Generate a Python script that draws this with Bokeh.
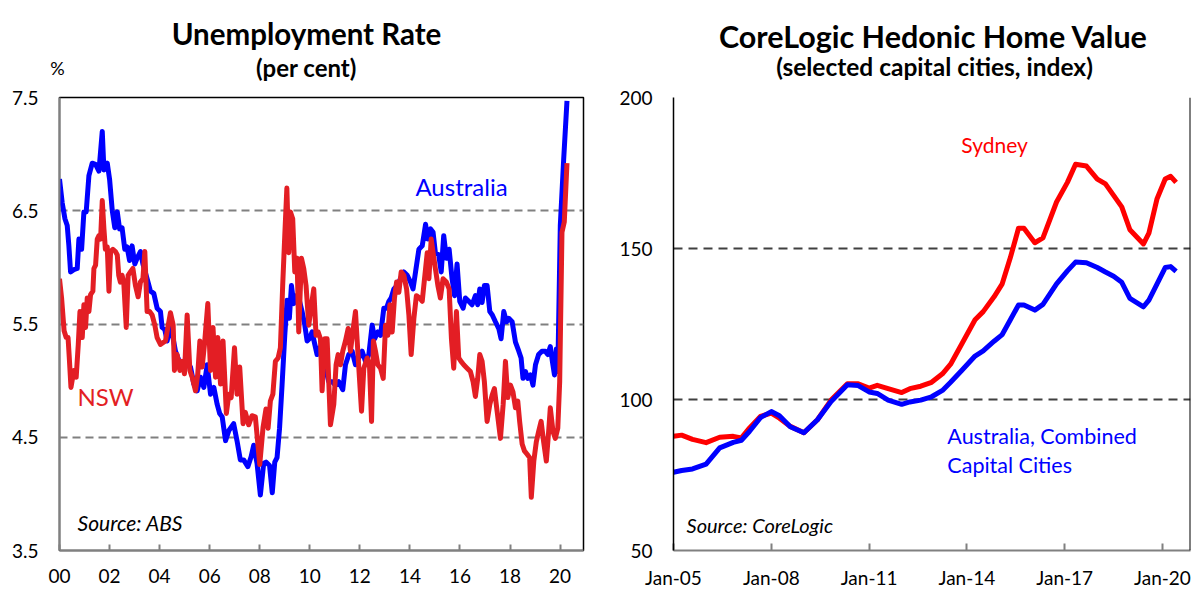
from bokeh.plotting import figure
from bokeh.layouts import row, column
from bokeh.models import Range1d, FixedTicker, Label, Span, ColumnDataSource
from bokeh.embed import file_html
from bokeh.resources import INLINE

FONT = "Lato"

# ---------------- Unemployment rate (monthly index since Jan 2000) ----------------
aus_months = [0, 1.3, 2.6, 3.7, 4.5, 5.3, 6.9, 8.5, 9.3, 10.6,
              11.7, 12.8, 14.1, 15.7, 17.3, 18.9, 20.5, 21.3, 22.9, 24.0,
              25.3, 26.5, 27.7, 28.8, 30.0, 31.3, 32.4, 33.6, 34.8, 36.1,
              37.2, 38.8, 40.0, 42.0, 43.6, 45.2, 46.8, 48.4, 49.2, 50.5,
              51.6, 53.2, 55.6, 58.0, 60.4, 62.8, 64.4, 66.0, 67.6, 69.2,
              70.8, 72.4, 74.0, 75.6, 76.8, 78.0, 79.6, 81.2, 83.5, 85.1,
              86.7, 88.3, 90.3, 91.9, 93.1, 94.7, 96.3, 97.9, 99.0, 100.7,
              102.0, 103.2, 104.3, 105.5, 106.7, 108.0, 109.1, 110.2, 111.2, 112.3,
              113.4, 114.7, 116.3, 117.6, 118.7, 119.8, 121.1, 122.4, 123.5, 124.6,
              125.9, 127.5, 129.1, 130.7, 132.3, 133.9, 135.8, 137.1, 138.7, 140.3,
              141.9, 143.5, 145.1, 146.7, 148.3, 149.9, 151.1, 152.6, 153.9, 155.5,
              156.8, 157.9, 159.0, 160.3, 161.9, 163.5, 165.1, 166.7, 168.3, 169.5,
              170.7, 172.3, 173.9, 175.5, 176.6, 177.9, 179.1, 180.2, 181.8, 183.0,
              184.2, 185.5, 186.8, 188.2, 189.4, 190.6, 191.9, 193.5, 194.6, 196.2,
              197.8, 199.4, 200.5, 201.5, 202.6, 203.7, 205.0, 206.3, 207.5, 209.0,
              210.6, 211.7, 213.0, 214.3, 215.4, 217.0, 218.6, 220.2, 221.3, 222.2,
              223.4, 224.5, 225.8, 227.0, 228.2, 229.7, 231.3, 232.9, 234.1, 235.3,
              236.3, 237.3, 238.2, 238.9, 240.1, 241.7, 243.3]
aus_rate = [6.78, 6.57, 6.43, 6.37, 6.19, 5.96, 5.98, 5.99, 6.25, 6.16,
            6.49, 6.49, 6.81, 6.92, 6.91, 6.85, 7.20, 6.86, 6.92, 6.78,
            6.50, 6.35, 6.49, 6.34, 6.35, 6.16, 6.18, 6.06, 6.19, 6.03,
            6.08, 6.14, 6.03, 5.90, 5.79, 5.77, 5.64, 5.61, 5.47, 5.45,
            5.35, 5.50, 5.26, 5.14, 5.14, 5.12, 4.97, 4.91, 5.03, 4.94,
            5.14, 4.88, 4.94, 4.79, 4.71, 4.68, 4.47, 4.56, 4.62, 4.47,
            4.30, 4.30, 4.24, 4.33, 4.43, 4.27, 3.99, 4.27, 4.28, 4.25,
            4.01, 4.28, 4.32, 4.58, 4.96, 5.40, 5.71, 5.55, 5.84, 5.68,
            5.75, 5.73, 5.61, 5.49, 5.35, 5.37, 5.43, 5.32, 5.23, 5.29,
            5.20, 5.11, 4.99, 4.99, 4.96, 4.99, 4.92, 5.14, 5.23, 5.26,
            5.14, 5.20, 5.26, 5.17, 5.23, 5.49, 5.37, 5.43, 5.40, 5.64,
            5.64, 5.70, 5.73, 5.81, 5.84, 5.90, 5.96, 5.93, 5.87, 5.81,
            5.96, 6.16, 6.19, 6.38, 6.25, 6.34, 6.31, 6.13, 6.11, 5.96,
            6.28, 6.08, 6.16, 5.90, 5.75, 6.03, 5.70, 5.64, 5.73, 5.70,
            5.67, 5.75, 5.67, 5.81, 5.69, 5.84, 5.84, 5.61, 5.58, 5.52,
            5.46, 5.37, 5.61, 5.52, 5.55, 5.52, 5.34, 5.26, 5.20, 5.02,
            5.08, 5.02, 5.05, 4.96, 5.14, 5.23, 5.26, 5.26, 5.23, 5.30,
            5.17, 5.05, 5.28, 5.08, 6.37, 6.95, 7.47]

nsw_months = [0, 1.0, 2.2, 3.2, 4.1, 4.7, 5.5, 6.9, 8.0, 9.0,
              9.8, 10.9, 11.7, 12.5, 13.3, 14.1, 14.9, 16.0, 16.5, 17.3,
              18.1, 18.9, 19.7, 20.5, 21.3, 22.0, 22.9, 23.7, 24.5, 25.6,
              26.8, 27.7, 28.4, 29.2, 30.0, 30.8, 32.0, 32.9, 34.0, 35.2,
              36.4, 37.7, 38.8, 40.0, 40.9, 42.0, 43.2, 44.4, 45.7, 46.8,
              48.4, 50.8, 53.2, 54.5, 55.1, 56.4, 57.7, 58.8, 59.9, 61.2,
              62.5, 63.6, 65.2, 66.3, 67.3, 68.4, 69.5, 71.1, 72.4, 73.6,
              74.8, 75.9, 77.2, 78.4, 80.0, 81.2, 82.3, 83.9, 85.1, 86.4,
              88.0, 89.1, 90.7, 92.3, 93.9, 96.0, 97.6, 99.0, 100.0, 101.1,
              102.3, 103.5, 104.8, 105.9, 107.0, 108.0, 109.0, 109.9, 110.7, 111.8,
              112.8, 113.9, 114.7, 116.0, 117.1, 118.2, 119.5, 120.8, 121.9, 123.0,
              124.0, 125.1, 125.9, 127.2, 128.3, 129.9, 131.5, 132.6, 133.6, 134.7,
              135.8, 137.1, 138.4, 139.5, 140.6, 141.9, 143.2, 144.8, 145.9, 147.5,
              148.6, 149.6, 150.5, 151.5, 152.6, 153.9, 155.2, 156.3, 157.4, 158.4,
              159.5, 160.6, 161.6, 162.7, 163.8, 165.1, 166.4, 167.5, 168.6, 169.9,
              171.1, 172.7, 173.9, 175.0, 176.3, 177.1, 178.2, 179.1, 180.2, 181.4,
              182.6, 183.9, 185.5, 186.8, 187.9, 189.0, 190.3, 191.4, 192.5, 193.8,
              195.4, 197.0, 198.3, 199.4, 200.5, 201.5, 202.6, 203.7, 205.0, 206.3,
              207.4, 208.5, 209.8, 211.4, 212.7, 213.8, 214.9, 216.2, 217.4, 218.6,
              219.7, 220.6, 221.8, 222.9, 224.2, 225.4, 226.2, 227.4, 228.6, 229.7,
              230.9, 232.1, 233.4, 234.5, 235.3, 236.6, 237.7, 238.9, 239.8, 240.9,
              242.0, 243.3]
nsw_rate = [5.90, 5.73, 5.44, 5.38, 5.38, 5.20, 4.94, 5.09, 5.03, 5.32,
            5.61, 5.38, 5.67, 5.47, 5.73, 5.61, 5.76, 5.79, 5.99, 6.02,
            6.25, 6.28, 6.25, 6.59, 6.34, 6.16, 6.18, 5.79, 6.14, 6.16,
            6.14, 6.11, 5.93, 5.87, 5.93, 5.87, 5.47, 5.93, 5.96, 5.99,
            5.84, 5.74, 5.87, 5.90, 6.14, 5.61, 5.61, 5.58, 5.49, 5.38,
            5.32, 5.35, 5.60, 5.49, 5.09, 5.23, 5.09, 5.17, 5.06, 5.58,
            5.09, 5.03, 4.91, 5.06, 5.35, 5.12, 5.32, 5.68, 5.09, 5.47,
            5.03, 5.38, 4.97, 5.35, 4.71, 4.88, 4.85, 5.29, 4.88, 5.12,
            4.62, 4.72, 4.61, 4.69, 4.68, 4.26, 4.59, 4.75, 4.58, 4.82,
            4.88, 5.17, 5.20, 5.29, 5.84, 6.28, 6.70, 6.13, 6.49, 6.43,
            5.96, 6.08, 5.43, 6.08, 5.99, 5.84, 5.49, 5.67, 5.81, 5.40,
            5.43, 5.37, 4.91, 5.37, 5.37, 4.61, 4.79, 5.14, 5.23, 5.14,
            5.26, 5.35, 5.46, 5.26, 5.43, 5.61, 5.20, 4.73, 5.11, 5.20,
            5.14, 4.64, 5.35, 5.26, 5.14, 5.11, 5.02, 5.49, 5.40, 5.67,
            5.43, 5.73, 5.87, 5.78, 5.96, 5.93, 5.81, 5.58, 5.23, 5.55,
            5.75, 5.73, 5.70, 5.90, 6.13, 5.90, 6.25, 6.13, 5.99, 5.84,
            5.73, 5.90, 5.87, 5.81, 5.37, 5.11, 5.61, 5.20, 5.17, 5.14,
            5.11, 5.08, 4.99, 4.86, 5.02, 5.23, 5.17, 4.99, 4.64, 4.79,
            4.87, 4.93, 4.73, 4.49, 4.79, 5.17, 4.85, 4.96, 4.90, 4.76,
            4.82, 4.64, 4.44, 4.38, 4.35, 4.32, 3.97, 4.29, 4.46, 4.55,
            4.64, 4.46, 4.29, 4.55, 4.76, 4.55, 4.49, 4.58, 4.99, 6.31,
            6.40, 6.92]

unemp_ticks = [2000, 2002, 2004, 2006, 2008, 2010, 2012, 2014, 2016, 2018, 2020]
unemp_tick_labels = ["00", "02", "04", "06", "08", "10", "12", "14", "16", "18", "20"]
unemp_yticks = [3.5, 4.5, 5.5, 6.5, 7.5]
unemp_grid = [4.5, 5.5, 6.5]

# ---------------- CoreLogic hedonic home value index ----------------
hv_dates = ["2005-01", "2005-04", "2005-08", "2006-01", "2006-06", "2006-11",
            "2007-02", "2007-05", "2007-09", "2008-01", "2008-04", "2008-08",
            "2009-01", "2009-06", "2009-11", "2010-05", "2010-09", "2011-01",
            "2011-04", "2011-08", "2012-01", "2012-04", "2012-08", "2012-12",
            "2013-04", "2013-07", "2013-11", "2014-04", "2014-07", "2014-11",
            "2015-02", "2015-05", "2015-08", "2015-10", "2016-02", "2016-05",
            "2016-10", "2017-02", "2017-05", "2017-09", "2018-01", "2018-04",
            "2018-07", "2018-10", "2019-01", "2019-06", "2019-08", "2019-11",
            "2020-02", "2020-04", "2020-06"]
sydney_index = [87.8, 88.2, 86.8, 85.7, 87.5, 87.8, 87.3, 90.6, 94.4, 95.5,
                93.8, 91.1, 89.0, 93.3, 99.8, 105.2, 105.2, 103.8, 104.7, 103.6,
                102.3, 103.6, 104.4, 105.7, 108.5, 111.7, 118.2, 126.4, 129.1, 134.0,
                138.3, 147.0, 156.7, 156.7, 151.9, 153.5, 165.4, 171.9, 177.9, 177.3,
                173.0, 171.4, 167.6, 163.8, 156.2, 151.5, 155.1, 166.5, 173.0, 173.9,
                171.9]
australia_index = [75.9, 76.5, 77.0, 78.6, 84.0, 85.8, 86.5, 89.5, 94.0, 96.0,
                   94.6, 91.0, 89.0, 93.3, 99.3, 104.9, 104.6, 102.5, 102.0, 99.8,
                   98.4, 99.2, 99.8, 100.9, 103.0, 105.7, 109.5, 114.4, 116.1, 119.3,
                   121.5, 126.4, 131.3, 131.3, 129.6, 131.5, 138.3, 142.6, 145.5, 145.3,
                   143.7, 142.2, 140.8, 138.8, 133.5, 130.7, 132.9, 138.3, 143.7, 144.0,
                   142.4]
hv_ticks = [2005, 2008, 2011, 2014, 2017, 2020]
hv_tick_labels = ["Jan-05", "Jan-08", "Jan-11", "Jan-14", "Jan-17", "Jan-20"]
hv_yticks = [50, 100, 150, 200]
hv_grid = [100, 150, 200]

BLUE = "#0000FF"
NSW_RED = "#E31E24"
SYD_RED = "#FF0000"
GRID_L = "#808080"
GRID_R = "#404040"


def style_axes(p, tick_size="19px"):
    for ax in (p.xaxis[0], p.yaxis[0]):
        ax.major_label_text_font = FONT
        ax.major_label_text_font_size = tick_size
        ax.major_label_text_color = "black"
        ax.minor_tick_line_color = None
        ax.major_tick_out = 0
    p.yaxis[0].major_tick_in = 0
    p.yaxis[0].major_label_standoff = 21
    p.xgrid.visible = False
    p.background_fill_color = "white"
    p.border_fill_color = "white"


def lbl(p, x, y, text, size, color="black", style="normal", align="left"):
    p.add_layout(Label(x=x, y=y, text=text, text_font=FONT, text_font_size=size,
                       text_color=color, text_font_style=style, text_align=align,
                       text_baseline="middle"))


# ---------- header with titles (page-pixel x, y measured up from the header bottom) ----------
HEAD_H = 82
header = figure(width=1196, height=HEAD_H, output_backend="svg", toolbar_location=None,
                title=None, x_range=Range1d(0, 1196), y_range=Range1d(0, HEAD_H),
                x_axis_type=None, y_axis_type=None, min_border=0)
header.outline_line_color = None
header.grid.visible = False
header.background_fill_color = "white"
header.border_fill_color = "white"
lbl(header, 306, HEAD_H - 33, "Unemployment Rate", "29.5px", style="bold", align="center")
lbl(header, 306, HEAD_H - 67, "(per cent)", "24px", style="bold", align="center")
lbl(header, 57, HEAD_H - 67, "%", "18px", align="center")
lbl(header, 933, HEAD_H - 35, "CoreLogic Hedonic Home Value", "30.5px", style="bold", align="center")
lbl(header, 934, HEAD_H - 66, "(selected capital cities, index)", "24.5px", style="bold", align="center")

PH = 596 - HEAD_H

# ---------- left figure ----------
x1_end = 2000 + 524 / 25.03
p1 = figure(width=600, height=PH, output_backend="svg", toolbar_location=None, title=None,
            x_range=Range1d(2000, x1_end), y_range=Range1d(3.5, 7.5),
            min_border_left=59, min_border_right=17, min_border_top=93 - HEAD_H, min_border_bottom=46)
style_axes(p1)
p1.xaxis.ticker = FixedTicker(ticks=unemp_ticks)
p1.xaxis.major_label_overrides = {t: s for t, s in zip(unemp_ticks, unemp_tick_labels)}
p1.xaxis.major_tick_in = 6
p1.xaxis.major_tick_line_color = GRID_L
p1.xaxis.major_tick_line_width = 2
p1.xaxis.major_label_standoff = 18
p1.xaxis.axis_line_color = GRID_L
p1.xaxis.axis_line_width = 2
p1.yaxis.ticker = FixedTicker(ticks=unemp_yticks)
p1.yaxis.axis_line_color = GRID_L
p1.yaxis.axis_line_width = 2
p1.ygrid.ticker = FixedTicker(ticks=unemp_grid)
p1.ygrid.grid_line_color = GRID_L
p1.ygrid.grid_line_width = 2
p1.ygrid.grid_line_dash = "8 5"
p1.outline_line_color = "black"
p1.outline_line_width = 1.5

aus_src = ColumnDataSource(dict(x=[2000 + m / 12 for m in aus_months], y=aus_rate))
nsw_src = ColumnDataSource(dict(x=[2000 + m / 12 for m in nsw_months], y=nsw_rate))
p1.line("x", "y", source=aus_src, line_color=BLUE, line_width=5, line_join="round")
p1.line("x", "y", source=nsw_src, line_color=NSW_RED, line_width=5, line_join="round")

lbl(p1, 2014.22, 6.71, "Australia", "24px", color=BLUE)
lbl(p1, 2000.72, 4.86, "NSW", "24px", color=NSW_RED)
lbl(p1, 2000.72, 3.745, "Source: ABS", "21px", style="italic")

# ---------- right figure ----------
x2_end = 2005 + 517 / 32.6
p2 = figure(width=596, height=PH, output_backend="svg", toolbar_location=None, title=None,
            x_range=Range1d(2005, x2_end), y_range=Range1d(50, 200),
            min_border_left=73, min_border_right=6, min_border_top=97 - HEAD_H, min_border_bottom=38)
style_axes(p2)
p2.xaxis.ticker = FixedTicker(ticks=hv_ticks)
p2.xaxis.major_label_overrides = {t: s for t, s in zip(hv_ticks, hv_tick_labels)}
p2.xaxis.major_tick_in = 7
p2.xaxis.major_tick_line_color = GRID_L
p2.xaxis.major_tick_line_width = 2
p2.xaxis.major_label_standoff = 15
p2.xaxis.axis_line_color = GRID_L
p2.xaxis.axis_line_width = 2
p2.yaxis.ticker = FixedTicker(ticks=hv_yticks)
p2.yaxis.axis_line_color = "black"
p2.yaxis.axis_line_width = 1.5
p2.ygrid.ticker = FixedTicker(ticks=hv_grid)
p2.ygrid.grid_line_color = GRID_R
p2.ygrid.grid_line_width = 2
p2.ygrid.grid_line_dash = "9 6"
p2.outline_line_color = None
p2.add_layout(Span(location=x2_end, dimension="height", line_color="black", line_width=2))


def dec_year(s):
    y, m = s.split("-")
    return int(y) + (int(m) - 1) / 12


hv_x = [dec_year(d) for d in hv_dates]
syd_src = ColumnDataSource(dict(x=hv_x, y=sydney_index))
aus_hv_src = ColumnDataSource(dict(x=hv_x, y=australia_index))
p2.line("x", "y", source=syd_src, line_color=SYD_RED, line_width=5, line_join="round")
p2.line("x", "y", source=aus_hv_src, line_color=BLUE, line_width=5, line_join="round")

lbl(p2, 2013.83, 184.4, "Sydney", "21px", color=SYD_RED)
lbl(p2, 2013.4, 87.8, "Australia, Combined", "21.5px", color=BLUE)
lbl(p2, 2013.4, 78.4, "Capital Cities", "21.5px", color=BLUE)
lbl(p2, 2005.4, 58.6, "Source: CoreLogic", "20px", style="italic")

layout = column(header, row(p1, p2))
open("out.html", "w").write(file_html(layout, INLINE))
